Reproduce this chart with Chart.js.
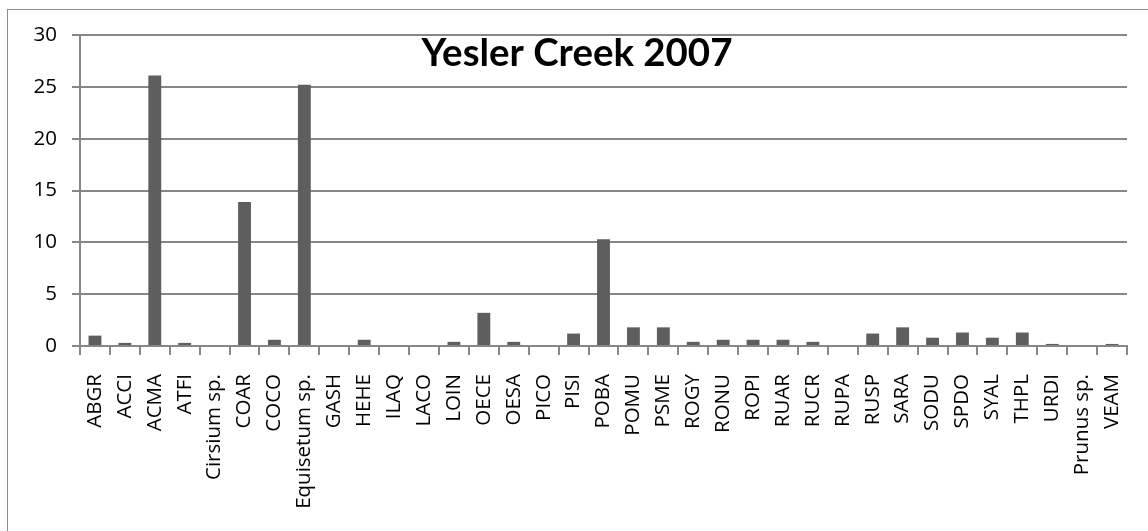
<!DOCTYPE html>
<html>
<head>
<meta charset="utf-8">
<script src="https://cdn.jsdelivr.net/npm/chart.js@4.4.1/dist/chart.umd.min.js"></script>
<style>
  html, body { margin: 0; padding: 0; background: #fff; }
  #wrap { position: relative; width: 1148px; height: 531px; overflow: hidden; }
  #frame { position: absolute; left: 7px; top: 9px; width: 1160px; height: 540px; border: 1px solid #8c8c8c; box-sizing: border-box; }
  canvas { position: absolute; left: 0; top: 0; }
</style>
</head>
<body>
<div id="wrap">
  <div id="frame"></div>
  <canvas id="yesler_chart" width="1148" height="531"></canvas>
</div>
<script>
// species codes along the x axis
const species = ['ABGR', 'ACCI', 'ACMA', 'ATFI', 'Cirsium sp.', 'COAR', 'COCO', 'Equisetum sp.',
    'GASH', 'HEHE', 'ILAQ', 'LACO', 'LOIN', 'OECE', 'OESA', 'PICO', 'PISI', 'POBA', 'POMU',
    'PSME', 'ROGY', 'RONU', 'ROPI', 'RUAR', 'RUCR', 'RUPA', 'RUSP', 'SARA', 'SODU', 'SPDO',
    'SYAL', 'THPL', 'URDI', 'Prunus sp.', 'VEAM'];

// cover values per species
const cover = [1.0, 0.3, 26.1, 0.3, 0, 13.9, 0.6, 25.2,
    0, 0.6, 0, 0, 0.4, 3.2, 0.4, 0, 1.2, 10.3, 1.8,
    1.8, 0.4, 0.6, 0.6, 0.6, 0.4, 0, 1.2, 1.8, 0.8, 1.3,
    0.8, 1.3, 0.2, 0, 0.2];

const yTicks = [0, 5, 10, 15, 20, 25, 30];
const chartTitle = 'Yesler Creek 2007';

const axisGray = '#868686';
const labelFont = { family: 'Open Sans', size: 20.5 };

// title sits over the plot area, like the spreadsheet version
const overlayTitle = {
    id: 'overlayTitle',
    afterDraw(chart) {
        const c = chart.ctx;
        const area = chart.chartArea;
        c.save();
        let size = 36;
        c.font = 'bold ' + size + 'px Lato';
        // squeeze the font so the heading keeps its width
        const w = c.measureText(chartTitle).width;
        size = size * 311 / w;
        c.font = 'bold ' + size + 'px Lato';
        c.fillStyle = '#000';
        c.textAlign = 'center';
        c.textBaseline = 'alphabetic';
        c.fillText(chartTitle, area.left + 497, area.top + 31);
        c.restore();
    }
};

let ctx = document.getElementById('yesler_chart').getContext('2d');
const yeslerChart = new Chart(ctx, {
    type: 'bar',
    data: {
        labels: species,
        datasets: [{
            label: chartTitle,
            data: cover,
            backgroundColor: '#5e5e5e',
            borderWidth: 0,
            barPercentage: 0.43,
            categoryPercentage: 1.0
        }]
    },
    options: {
        responsive: false,
        animation: false,
        layout: {
            padding: { left: 0, right: 21, top: 35, bottom: 0 }
        },
        plugins: {
            legend: { display: false },
            title: { display: false },
            tooltip: { enabled: false }
        },
        scales: {
            x: {
                grid: {
                    drawOnChartArea: false,
                    drawTicks: true,
                    tickLength: 9,
                    color: axisGray,
                    lineWidth: 2
                },
                border: { color: axisGray, width: 2 },
                ticks: {
                    color: '#000',
                    font: labelFont,
                    minRotation: 90,
                    maxRotation: 90,
                    autoSkip: false,
                    padding: 19
                },
                afterFit(scale) {
                    scale.height = 185;
                    // keep the plot edges fixed, labels fit inside the padding anyway
                    scale.paddingLeft = 0;
                    scale.paddingRight = 0;
                }
            },
            y: {
                min: 0,
                max: 30,
                afterBuildTicks(scale) { scale.ticks = yTicks.map(v => ({ value: v })); },
                grid: {
                    color: axisGray,
                    lineWidth: 2,
                    tickLength: 8
                },
                border: { color: axisGray, width: 2 },
                ticks: {
                    color: '#000',
                    font: labelFont,
                    padding: 15
                },
                afterFit(scale) { scale.width = 80; }
            }
        }
    },
    plugins: [overlayTitle]
});
</script>
</body>
</html>
